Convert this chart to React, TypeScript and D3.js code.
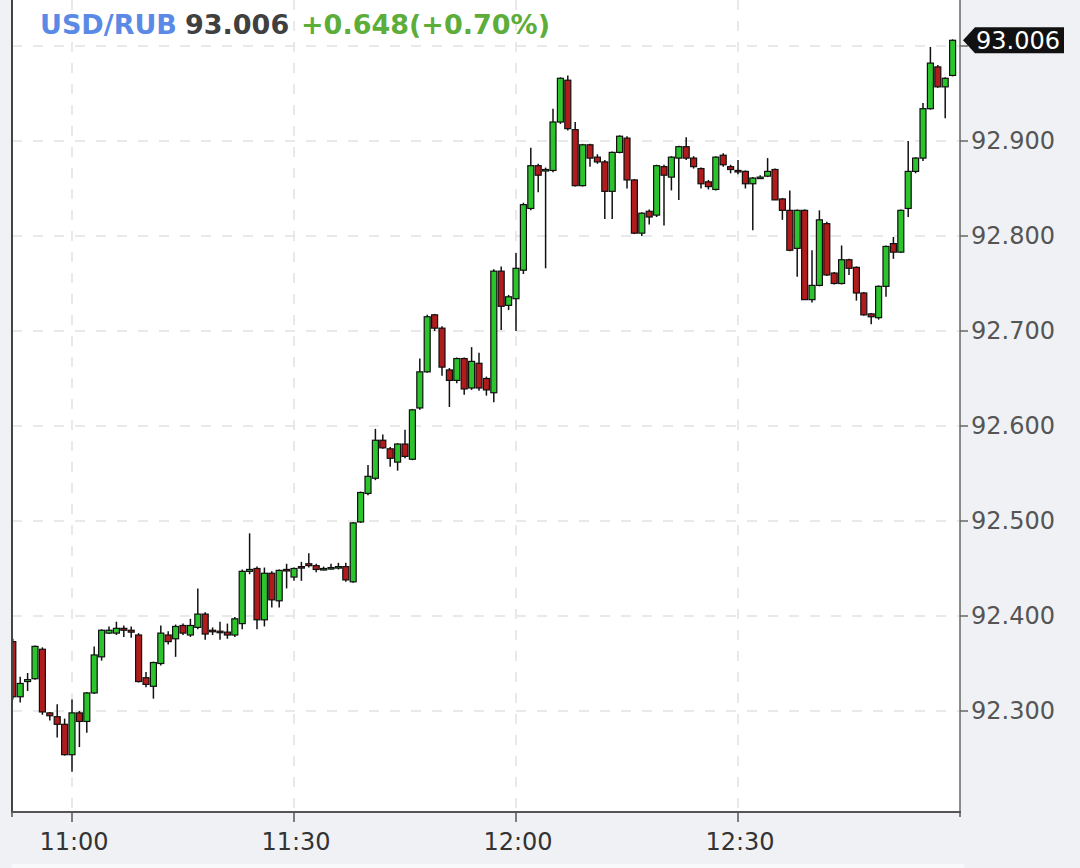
import React from 'react';
import * as d3 from 'd3';

// 1-minute candles, first one at 10:52
const startTime = new Date(2023, 7, 14, 10, 52);

const opens = [
  92.373, 92.315, 92.331, 92.334, 92.365, 92.298, 92.294, 92.286, 92.254, 92.298,
  92.289, 92.319, 92.357, 92.382, 92.382, 92.387, 92.385, 92.380, 92.335, 92.326,
  92.350, 92.380, 92.376, 92.390, 92.380, 92.388, 92.402, 92.385, 92.384, 92.383,
  92.380, 92.392, 92.447, 92.450, 92.396, 92.445, 92.416, 92.449, 92.441, 92.452,
  92.455, 92.453, 92.450, 92.450, 92.451, 92.452, 92.436, 92.499, 92.529, 92.545,
  92.585, 92.576, 92.562, 92.581, 92.565, 92.619, 92.657, 92.717, 92.703, 92.659,
  92.648, 92.671, 92.640, 92.666, 92.650, 92.635, 92.763, 92.727, 92.734, 92.764,
  92.829, 92.874, 92.869, 92.869, 92.920, 92.964, 92.912, 92.853, 92.896, 92.883,
  92.878, 92.847, 92.888, 92.903, 92.859, 92.803, 92.826, 92.822, 92.873, 92.862,
  92.882, 92.894, 92.882, 92.871, 92.857, 92.849, 92.885, 92.873, 92.869, 92.868,
  92.855, 92.862, 92.863, 92.870, 92.839, 92.827, 92.787, 92.827, 92.733, 92.748,
  92.813, 92.761, 92.750, 92.775, 92.767, 92.740, 92.718, 92.714, 92.747, 92.792,
  92.783, 92.829, 92.868, 92.882, 92.934, 92.978, 92.957, 92.969,
];

const highs = [
  92.376, 92.336, 92.340, 92.369, 92.367, 92.299, 92.307, 92.292, 92.312, 92.300,
  92.320, 92.368, 92.386, 92.389, 92.394, 92.390, 92.389, 92.382, 92.341, 92.352,
  92.390, 92.384, 92.391, 92.392, 92.397, 92.429, 92.404, 92.388, 92.394, 92.392,
  92.399, 92.449, 92.487, 92.452, 92.451, 92.447, 92.449, 92.455, 92.451, 92.457,
  92.466, 92.455, 92.452, 92.455, 92.456, 92.456, 92.499, 92.531, 92.559, 92.597,
  92.591, 92.578, 92.582, 92.596, 92.618, 92.671, 92.717, 92.718, 92.705, 92.661,
  92.672, 92.672, 92.683, 92.677, 92.652, 92.765, 92.768, 92.738, 92.782, 92.835,
  92.893, 92.876, 92.872, 92.934, 92.967, 92.969, 92.920, 92.897, 92.897, 92.886,
  92.880, 92.889, 92.906, 92.905, 92.860, 92.825, 92.828, 92.875, 92.875, 92.884,
  92.895, 92.904, 92.884, 92.872, 92.859, 92.884, 92.887, 92.875, 92.880, 92.869,
  92.862, 92.864, 92.882, 92.871, 92.840, 92.848, 92.828, 92.828, 92.785, 92.827,
  92.815, 92.762, 92.790, 92.776, 92.768, 92.741, 92.719, 92.748, 92.790, 92.799,
  92.828, 92.900, 92.883, 92.940, 92.999, 92.980, 92.967, 93.007,
];

const lows = [
  92.312, 92.309, 92.321, 92.333, 92.296, 92.290, 92.272, 92.253, 92.236, 92.262,
  92.277, 92.318, 92.353, 92.381, 92.380, 92.378, 92.377, 92.330, 92.325, 92.313,
  92.348, 92.370, 92.357, 92.380, 92.378, 92.386, 92.375, 92.380, 92.375, 92.376,
  92.378, 92.386, 92.444, 92.386, 92.389, 92.409, 92.409, 92.429, 92.437, 92.437,
  92.451, 92.446, 92.448, 92.449, 92.449, 92.436, 92.435, 92.498, 92.527, 92.543,
  92.576, 92.557, 92.553, 92.566, 92.564, 92.617, 92.656, 92.700, 92.653, 92.620,
  92.645, 92.633, 92.638, 92.637, 92.632, 92.625, 92.701, 92.722, 92.700, 92.760,
  92.827, 92.846, 92.766, 92.867, 92.918, 92.911, 92.852, 92.852, 92.873, 92.876,
  92.818, 92.818, 92.887, 92.850, 92.802, 92.800, 92.812, 92.820, 92.811, 92.848,
  92.838, 92.880, 92.871, 92.850, 92.849, 92.848, 92.873, 92.866, 92.865, 92.850,
  92.806, 92.860, 92.862, 92.838, 92.817, 92.784, 92.757, 92.733, 92.730, 92.747,
  92.758, 92.749, 92.749, 92.759, 92.732, 92.716, 92.707, 92.712, 92.736, 92.776,
  92.782, 92.820, 92.866, 92.879, 92.933, 92.956, 92.924, 92.968,
];

const closes = [
  92.315, 92.329, 92.333, 92.368, 92.299, 92.295, 92.286, 92.254, 92.298, 92.289,
  92.319, 92.359, 92.385, 92.385, 92.387, 92.385, 92.383, 92.331, 92.328, 92.351,
  92.382, 92.373, 92.389, 92.382, 92.390, 92.402, 92.381, 92.384, 92.383, 92.380,
  92.397, 92.447, 92.449, 92.396, 92.445, 92.417, 92.448, 92.448, 92.450, 92.451,
  92.453, 92.449, 92.450, 92.451, 92.452, 92.438, 92.498, 92.530, 92.547, 92.585,
  92.577, 92.566, 92.581, 92.568, 92.617, 92.657, 92.715, 92.703, 92.662, 92.648,
  92.671, 92.639, 92.668, 92.640, 92.638, 92.763, 92.726, 92.736, 92.766, 92.833,
  92.874, 92.864, 92.870, 92.920, 92.966, 92.913, 92.853, 92.896, 92.882, 92.878,
  92.847, 92.888, 92.905, 92.859, 92.803, 92.824, 92.820, 92.874, 92.864, 92.883,
  92.894, 92.882, 92.873, 92.855, 92.852, 92.883, 92.875, 92.870, 92.868, 92.855,
  92.861, 92.862, 92.868, 92.838, 92.827, 92.785, 92.827, 92.733, 92.748, 92.817,
  92.759, 92.750, 92.775, 92.766, 92.740, 92.717, 92.715, 92.747, 92.789, 92.783,
  92.827, 92.868, 92.882, 92.934, 92.982, 92.957, 92.966, 93.006,
];

const timeTickLabels = ['11:00', '11:30', '12:00', '12:30'];
const priceGrid = [92.3, 92.4, 92.5, 92.6, 92.7, 92.8, 92.9, 93.0];
// 93.000 sits under the last-price marker, so it is not labelled
const priceLabels = [92.3, 92.4, 92.5, 92.6, 92.7, 92.8, 92.9];

const symbol = 'USD/RUB';
const lastPrice = '93.006';
const change = '+0.648(+0.70%)';

const W = 1080;
const H = 868;
const plot = { left: 12, right: 960, top: 0, bottom: 812 };

const GREEN = '#2cc42c';
const RED = '#b01b1b';
const INK = '#111';

const App: React.FC = () => {
  const x = d3
    .scaleTime()
    .domain([new Date(2023, 7, 14, 10, 51, 53, 500), new Date(2023, 7, 14, 13, 0)])
    .range([plot.left, plot.right]);

  const y = d3
    .scaleLinear()
    .domain([92.19368, 93.04842])
    .range([plot.bottom, plot.top]);

  const parseHM = d3.timeParse('%Y-%m-%d %H:%M');
  const timeTicks = timeTickLabels.map((t) => parseHM(`2023-08-14 ${t}`) as Date);
  const fmtPrice = d3.format('.3f');

  const candles = opens.map((o, i) => ({
    t: new Date(startTime.getTime() + i * 60000),
    o,
    h: highs[i],
    l: lows[i],
    c: closes[i],
  }));

  const bodyW = 6;
  const lastY = y(closes[closes.length - 1]);

  return (
    <svg
      width={W}
      height={H}
      style={{ position: 'absolute', left: 0, top: 0, fontFamily: 'DejaVu Sans' }}
    >
      <defs>
        <clipPath id="plot-clip">
          <rect x={plot.left} y={plot.top} width={plot.right - plot.left} height={plot.bottom - plot.top} />
        </clipPath>
      </defs>

      <rect x={0} y={0} width={W} height={H} fill="#eff1f4" />
      <rect x={plot.left} y={864} width={plot.right - plot.left + 4} height={4} fill="#f8f9fa" />
      <rect
        x={plot.left}
        y={plot.top}
        width={plot.right - plot.left}
        height={plot.bottom - plot.top}
        fill="#ffffff"
      />

      {/* grid */}
      <g stroke="#e2e2e2" strokeWidth={1.5} strokeDasharray="10,11">
        {priceGrid.map((v) => (
          <line key={v} x1={plot.left} x2={plot.right} y1={y(v)} y2={y(v)} />
        ))}
        {timeTicks.map((t) => (
          <line key={+t} x1={x(t)} x2={x(t)} y1={plot.top} y2={plot.bottom} />
        ))}
      </g>

      {/* candles */}
      <g clipPath="url(#plot-clip)">
        {candles.map((d, i) => {
          const cx = x(d.t);
          const top = y(Math.max(d.o, d.c));
          const bot = y(Math.min(d.o, d.c));
          const up = d.c >= d.o;
          return (
            <g key={i}>
              <line x1={cx} x2={cx} y1={y(d.h)} y2={y(d.l)} stroke={INK} strokeWidth={1.5} />
              <rect
                x={cx - bodyW / 2}
                y={top}
                width={bodyW}
                height={Math.max(1.5, bot - top)}
                fill={up ? GREEN : RED}
                stroke={INK}
                strokeWidth={1.2}
              />
            </g>
          );
        })}
      </g>

      {/* axes frame */}
      <line x1={plot.left} x2={plot.left} y1={plot.top} y2={plot.bottom} stroke="#444" strokeWidth={2} />
      <line x1={plot.right} x2={plot.right} y1={plot.top} y2={plot.bottom} stroke="#666" strokeWidth={1.5} />
      <line x1={plot.left - 1} x2={plot.right + 1} y1={plot.bottom} y2={plot.bottom} stroke="#555" strokeWidth={2} />
      <line x1={plot.left} x2={plot.left} y1={plot.bottom} y2={plot.bottom + 5} stroke="#555" strokeWidth={1.5} />
      <line x1={plot.right} x2={plot.right} y1={plot.bottom} y2={plot.bottom + 5} stroke="#555" strokeWidth={1.5} />

      {/* x axis */}
      {timeTicks.map((t, i) => (
        <g key={+t}>
          <line x1={x(t)} x2={x(t)} y1={plot.bottom} y2={plot.bottom + 10} stroke="#555" strokeWidth={1.5} />
          <text x={x(t) + 2} y={850} textAnchor="middle" fontSize={24} fill="#333">
            {timeTickLabels[i]}
          </text>
        </g>
      ))}

      {/* y axis */}
      {priceGrid.map((v) => (
        <line key={v} x1={plot.right} x2={plot.right + 8} y1={y(v)} y2={y(v)} stroke="#666" strokeWidth={1.5} />
      ))}
      {priceLabels.map((v) => (
        <text key={v} x={971} y={y(v)} dy="0.35em" fontSize={24} fill="#555">
          {fmtPrice(v)}
        </text>
      ))}

      {/* last price marker */}
      <path d={`M${plot.right + 3},${lastY} l12,-13 h89 v26 h-89 z`} fill="#111" />
      <text x={976} y={lastY} dy="0.36em" fontSize={24} fill="#ffffff">
        {lastPrice}
      </text>

      {/* header */}
      <g fontSize={27} fontWeight="bold">
        <text x={40} y={34} fill="#5a8ae6">{symbol}</text>
        <text x={185} y={34} fill="#404040">{lastPrice}</text>
        <text x={301} y={34} fill="#5cad3a">{change}</text>
      </g>
    </svg>
  );
};

export default App;
